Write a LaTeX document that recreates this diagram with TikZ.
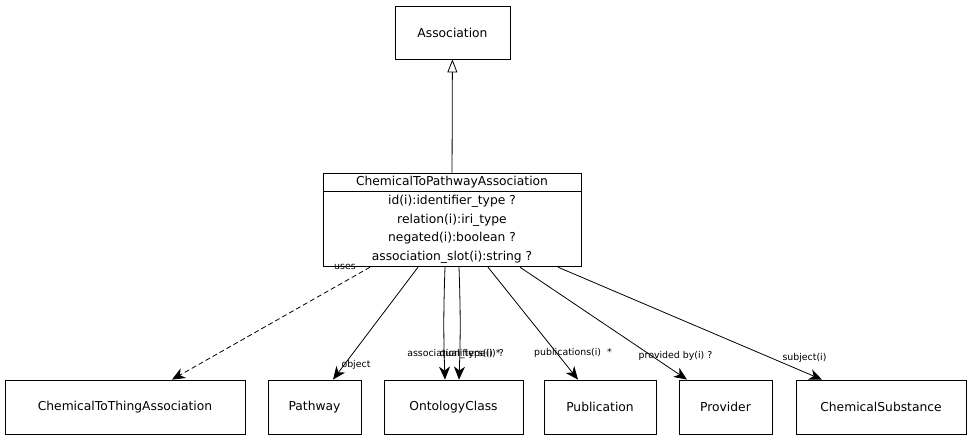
\documentclass[tikz,border=0pt]{standalone}
\usepackage{fontspec}
\setmainfont{DejaVu Sans}
\usetikzlibrary{arrows.meta,positioning}
\begin{document}
\begin{tikzpicture}[x=1pt,y=1pt]
        \tikzstyle{cls}=[rectangle, draw=black, fill=white, line width=0.8pt, inner sep=0pt, font=\fontsize{12.3pt}{14pt}\selectfont, minimum height=54pt]
        \tikzstyle{lbl}=[font=\fontsize{9.4pt}{10pt}\selectfont, inner sep=0pt]
        \tikzstyle{link}=[-{Stealth[length=13pt,width=11pt,inset=4pt]}, line width=0.8pt]
        \useasboundingbox (0,0) rectangle (971,440);

        % Parent class
        \node (assoc) [cls, minimum width=115pt, minimum height=53pt] at (452.5,407.5) {Association};

        % Main class with its slots
        \node (head) [cls, minimum width=258pt, minimum height=18pt] at (452,258) {ChemicalToPathwayAssociation};
        \node (body) [cls, minimum width=258pt, minimum height=75pt, below=0pt of head, align=center, font=\fontsize{12.3pt}{18.7pt}\selectfont]
            {id(i):identifier\_type ?\\relation(i):iri\_type\\negated(i):boolean ?\\association\_slot(i):string ?};

        % Range classes
        \node (thing) [cls, minimum width=240pt] at (125,33) {ChemicalToThingAssociation};
        \node (pathway) [cls, minimum width=93pt] at (314.5,33) {Pathway};
        \node (onto) [cls, minimum width=139pt] at (453.5,33) {OntologyClass};
        \node (pub) [cls, minimum width=112pt] at (600,33) {Publication};
        \node (prov) [cls, minimum width=93pt] at (725.5,33) {Provider};
        \node (subst) [cls, minimum width=170pt] at (881,33) {ChemicalSubstance};

        % Inheritance
        \draw[-{Triangle[open,length=13pt,width=10pt]}, line width=0.8pt] (head) -- (assoc);

        % Slot arrows
        \draw[link, dash pattern=on 5pt off 3pt] ([xshift=-82pt]body.south) -- ([xshift=47pt]thing.north)
            node[lbl, at start, xshift=-25pt] {uses};
        \draw[link] ([xshift=-34pt]body.south) -- ([xshift=18.5pt]pathway.north)
            node[lbl, at end, xshift=23pt, yshift=15pt] {object};
        \draw[link] ([xshift=-7pt]body.south) to[bend right=2]
            node[lbl, at end, xshift=10.5pt, yshift=26pt] {association\_type(i) ?} ([xshift=-8.5pt]onto.north);
        \draw[link] ([xshift=7pt]body.south) to[bend left=2]
            node[lbl, at end, xshift=11pt, yshift=26pt] {qualifiers(i) *} ([xshift=5.5pt]onto.north);
        \draw[link] ([xshift=36pt]body.south) -- ([xshift=-22pt]pub.north)
            node[lbl, at end, xshift=-5pt, yshift=27pt] {publications(i) \ *};
        \draw[link] ([xshift=68pt]body.south) -- ([xshift=-38.5pt]prov.north)
            node[lbl, at end, xshift=-11.5pt, yshift=24pt] {provided by(i) ?};
        \draw[link] ([xshift=106pt]body.south) -- ([xshift=-59pt]subst.north)
            node[lbl, at end, xshift=-17.5pt, yshift=22pt] {subject(i)};
    \end{tikzpicture}
\end{document}
